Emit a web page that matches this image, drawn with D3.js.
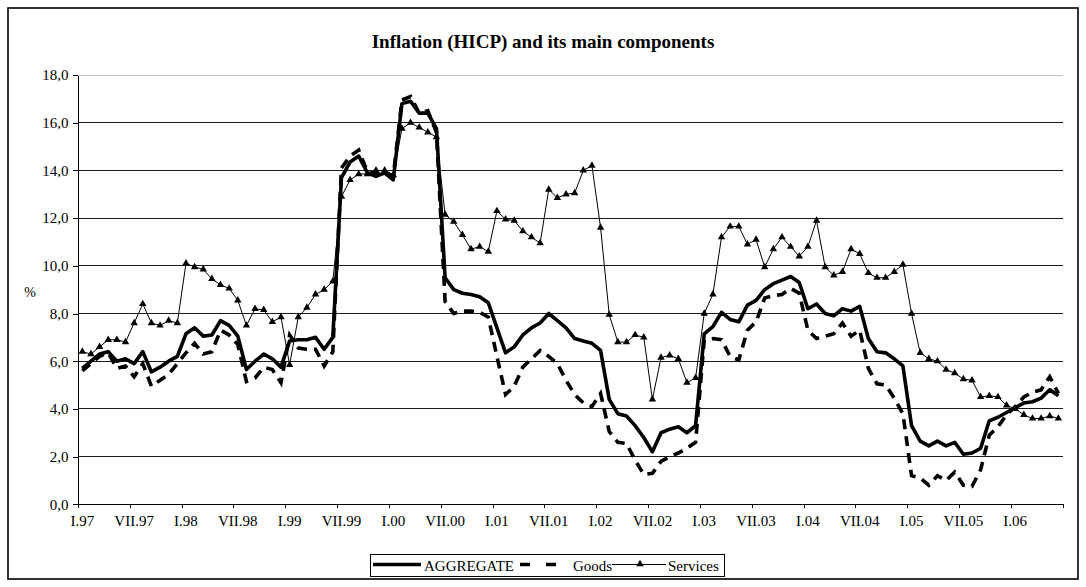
<!DOCTYPE html>
<html>
<head>
<meta charset="utf-8">
<script src="https://cdn.jsdelivr.net/npm/d3@7"></script>
<style>
  html, body { margin: 0; padding: 0; background: #fff; }
  svg { display: block; }
  text { fill: #000; }
</style>
</head>
<body>
<div id="chart"></div>
<script>
// ── DATA (monthly, I.97 – VI.06, % y/y) ─────────────────────────────────────
const ROMAN = ['I', 'II', 'III', 'IV', 'V', 'VI', 'VII', 'VIII', 'IX', 'X', 'XI', 'XII'];
const YEARS = ['97', '98', '99', '00', '01', '02', '03', '04', '05', '06'];
const Y_TICKS = [0, 2, 4, 6, 8, 10, 12, 14, 16, 18];

const aggregate = [
  5.7, 6.0, 6.3, 6.4, 6.0, 6.1, 5.9, 6.4, 5.55, 5.75, 6.0, 6.2,
  7.15, 7.4, 7.05, 7.1, 7.7, 7.5, 7.05, 5.65, 6.0, 6.3, 6.1, 5.75,
  6.85, 6.9, 6.9, 7.0, 6.5, 7.0, 13.7, 14.35, 14.6, 13.9, 13.75, 13.9,
  13.6, 16.8, 16.9, 16.4, 16.4, 15.75, 9.5, 9.0, 8.85, 8.8, 8.7, 8.45,
  7.4, 6.35, 6.6, 7.1, 7.4, 7.6, 8.0, 7.7, 7.4, 6.95, 6.85, 6.75,
  6.45, 4.4, 3.8, 3.7, 3.3, 2.8, 2.2, 3.0, 3.15, 3.25, 3.0, 3.3,
  7.15, 7.45, 8.05, 7.75, 7.65, 8.35, 8.55, 9.0, 9.25, 9.4, 9.55, 9.3,
  8.2, 8.4, 8.0, 7.9, 8.2, 8.1, 8.3, 6.95, 6.4, 6.35, 6.1, 5.8,
  3.3, 2.65, 2.45, 2.65, 2.45, 2.6, 2.1, 2.15, 2.35, 3.5, 3.65, 3.85,
  4.05, 4.25, 4.3, 4.45, 4.8, 4.55
];

const goods = [
  5.6, 5.9, 6.2, 6.35, 5.7, 5.8, 5.35, 5.9, 4.95, 5.2, 5.45, 5.9,
  6.35, 6.75, 6.3, 6.4, 7.3, 7.1, 6.7, 5.15, 5.3, 5.75, 5.65, 5.1,
  7.1, 6.55, 6.5, 6.5, 5.8, 6.4, 14.1, 14.6, 14.85, 13.95, 13.85, 13.95,
  13.75, 16.95, 17.1, 16.4, 16.5, 15.6, 8.5, 8.0, 8.1, 8.1, 8.05, 7.85,
  6.2, 4.6, 4.95, 5.75, 6.1, 6.45, 6.2, 5.9, 5.2, 4.6, 4.25, 4.1,
  4.65, 3.05, 2.6, 2.55, 1.85, 1.25, 1.3, 1.8, 2.0, 2.15, 2.35, 2.6,
  6.9, 6.95, 6.9, 6.2, 6.05, 7.3, 7.65, 8.65, 8.75, 8.8, 9.05, 8.85,
  7.3, 6.95, 7.05, 7.15, 7.6, 7.05, 7.3, 5.7, 5.05, 5.0, 4.45, 3.8,
  1.2, 1.1, 0.8, 1.2, 1.0, 1.35, 0.8, 0.75, 1.45, 2.9, 3.25, 3.75,
  4.1, 4.5, 4.7, 4.8, 5.35, 4.65
];

const services = [
  6.4, 6.3, 6.6, 6.9, 6.9, 6.8, 7.6, 8.4, 7.6, 7.5, 7.7, 7.6,
  10.1, 9.95, 9.85, 9.45, 9.2, 9.05, 8.55, 7.5, 8.2, 8.15, 7.65, 7.85,
  5.85, 7.85, 8.25, 8.8, 9.0, 9.35, 12.9, 13.6, 13.85, 13.85, 14.0, 14.0,
  13.8, 15.75, 16.0, 15.8, 15.6, 15.4, 12.15, 11.85, 11.3, 10.7, 10.8, 10.6,
  12.3, 11.95, 11.9, 11.45, 11.2, 10.95, 13.2, 12.85, 13.0, 13.05, 14.0, 14.2,
  11.6, 7.95, 6.8, 6.8, 7.1, 7.0, 4.4, 6.15, 6.25, 6.1, 5.1, 5.3,
  8.0, 8.8, 11.2, 11.65, 11.65, 10.9, 11.1, 9.95, 10.7, 11.2, 10.8, 10.4,
  10.8, 11.9, 9.95, 9.6, 9.75, 10.7, 10.5, 9.7, 9.5, 9.5, 9.75, 10.05,
  8.0, 6.35, 6.1, 6.0, 5.65, 5.5, 5.25, 5.2, 4.5, 4.55, 4.5, 4.15,
  4.0, 3.75, 3.6, 3.6, 3.7, 3.6
];

const months = YEARS.flatMap(y => ROMAN.map(r => `${r}.${y}`)).slice(0, aggregate.length);

// ── DIMENSIONS ───────────────────────────────────────────────────────────────
const W = 1086, H = 587;
const plot = { left: 78, right: 1062.7, top: 75, bottom: 504.3 };
const SERIF = '"Liberation Serif", "Times New Roman", serif';

const svg = d3.select('#chart').append('svg')
  .attr('width', W)
  .attr('height', H);

svg.append('rect')
  .attr('x', 8).attr('y', 8)
  .attr('width', 1070).attr('height', 571)
  .attr('fill', '#fff')
  .attr('stroke', '#000')
  .attr('stroke-width', 1.6);

function label(parent, x, y, str, size, anchor, weight) {
  return parent.append('text')
    .attr('x', x).attr('y', y)
    .attr('font-family', SERIF)
    .attr('font-size', size)
    .attr('font-weight', weight || 'normal')
    .attr('text-anchor', anchor || 'start')
    .text(str);
}

// ── SCALES ───────────────────────────────────────────────────────────────────
const x = d3.scaleBand().domain(months).range([plot.left, plot.right]).padding(0);
const xTick = d3.scaleLinear().domain([0, months.length]).range([plot.left, plot.right]);
const y = d3.scaleLinear().domain([0, 18]).range([plot.bottom, plot.top]);
const cx = i => x(months[i]) + x.bandwidth() / 2;

// ── GRID ─────────────────────────────────────────────────────────────────────
svg.append('g')
  .attr('shape-rendering', 'crispEdges')
  .selectAll('line')
  .data(Y_TICKS.filter(v => v > 0))
  .join('line')
    .attr('x1', plot.left).attr('x2', plot.right)
    .attr('y1', d => y(d)).attr('y2', d => y(d))
    .attr('stroke', d => d === 18 ? '#c4c4c4' : '#1a1a1a')
    .attr('stroke-width', 1);

// ── AXES ─────────────────────────────────────────────────────────────────────
const yAxisG = svg.append('g')
  .attr('transform', `translate(${plot.left},0)`)
  .call(d3.axisLeft(y).tickValues(Y_TICKS).tickSize(5).tickSizeOuter(0).tickPadding(4.5)
    .tickFormat(d => d.toFixed(1).replace('.', ',')));
yAxisG.attr('font-family', SERIF).attr('font-size', 15);
yAxisG.selectAll('line, path').attr('stroke', '#000').attr('shape-rendering', 'crispEdges');
yAxisG.selectAll('text').attr('fill', '#000');

const xTickG = svg.append('g')
  .attr('transform', `translate(0,${plot.bottom})`)
  .call(d3.axisBottom(xTick).tickValues(d3.range(0, months.length + 1, 6))
    .tickSize(4).tickSizeOuter(0).tickFormat(''));
xTickG.selectAll('line, path').attr('stroke', '#000').attr('shape-rendering', 'crispEdges');

const xLabelG = svg.append('g')
  .attr('transform', `translate(0,${plot.bottom})`)
  .call(d3.axisBottom(x).tickValues(months.filter((d, i) => i % 6 === 0))
    .tickSize(0).tickPadding(11));
xLabelG.select('.domain').remove();
xLabelG.attr('font-family', SERIF).attr('font-size', 15);
xLabelG.selectAll('text').attr('fill', '#000');

label(svg, 30, 297, '%', 14, 'middle');

// ── TITLE ────────────────────────────────────────────────────────────────────
label(svg, 543, 48, 'Inflation (HICP) and its main components', 19, 'middle', 'bold');

// ── SERIES ───────────────────────────────────────────────────────────────────
const line = d3.line().x((d, i) => cx(i)).y(d => y(d));

svg.append('path')
  .datum(aggregate)
  .attr('d', line)
  .attr('fill', 'none')
  .attr('stroke', '#000')
  .attr('stroke-width', 3.6)
  .attr('stroke-linejoin', 'round');

svg.append('path')
  .datum(goods)
  .attr('d', line)
  .attr('fill', 'none')
  .attr('stroke', '#000')
  .attr('stroke-width', 3.6)
  .attr('stroke-dasharray', '10,7');

svg.append('path')
  .datum(services)
  .attr('d', line)
  .attr('fill', 'none')
  .attr('stroke', '#000')
  .attr('stroke-width', 1);

const tri = d3.symbol().type(d3.symbolTriangle).size(24);
svg.append('g')
  .selectAll('path')
  .data(services)
  .join('path')
    .attr('transform', (d, i) => `translate(${cx(i)},${y(d)})`)
    .attr('d', tri)
    .attr('fill', '#000');

// ── LEGEND ───────────────────────────────────────────────────────────────────
const legend = svg.append('g');
legend.append('rect')
  .attr('x', 370.5).attr('y', 554.5)
  .attr('width', 354).attr('height', 22)
  .attr('fill', '#fff').attr('stroke', '#000').attr('stroke-width', 1);

legend.append('line')
  .attr('x1', 373).attr('x2', 421).attr('y1', 564.5).attr('y2', 564.5)
  .attr('stroke', '#000').attr('stroke-width', 3.6);
label(legend, 424, 571, 'AGGREGATE', 15);

legend.append('line')
  .attr('x1', 520).attr('x2', 556).attr('y1', 564.5).attr('y2', 564.5)
  .attr('stroke', '#000').attr('stroke-width', 3.6).attr('stroke-dasharray', '10,16');
label(legend, 573, 571, 'Goods', 15);

legend.append('line')
  .attr('x1', 612).attr('x2', 666).attr('y1', 564.5).attr('y2', 564.5)
  .attr('stroke', '#000').attr('stroke-width', 1);
legend.append('path')
  .attr('transform', 'translate(640,564)')
  .attr('d', tri)
  .attr('fill', '#000');
label(legend, 668, 571, 'Services', 15);
</script>
</body>
</html>
